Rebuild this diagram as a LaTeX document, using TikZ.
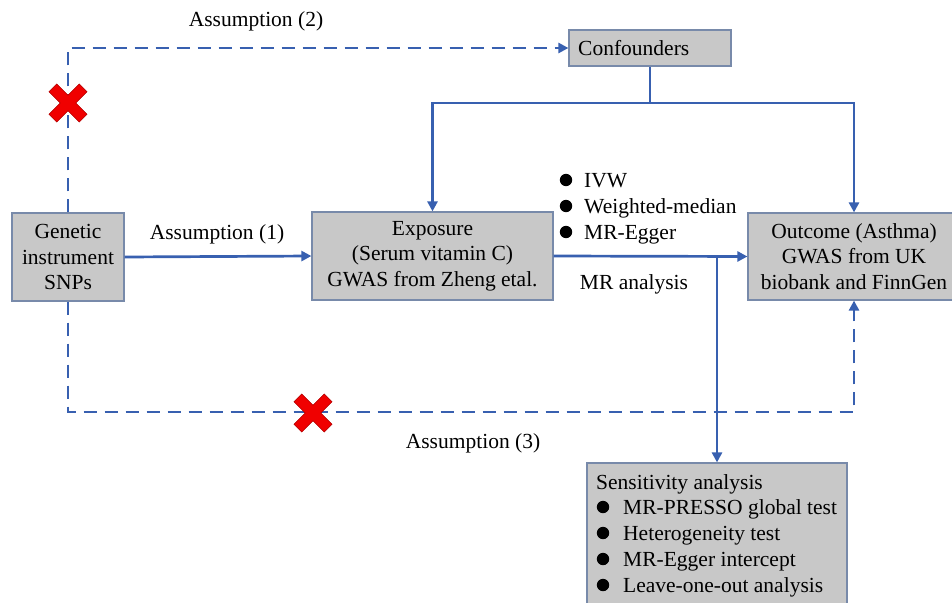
\documentclass[tikz,border=0pt]{standalone}
\usepackage{fontspec}
\setmainfont{Liberation Serif}
\usetikzlibrary{arrows.meta}
\definecolor{lineblue}{RGB}{56,96,176}
\definecolor{boxgray}{RGB}{200,200,200}
\definecolor{boxedge}{RGB}{120,138,170}
\definecolor{xred}{RGB}{240,0,0}
\tikzset{
  fnt/.style={font=\fontsize{21.5}{25.5}\selectfont},
  box/.style={draw=boxedge, line width=1.2pt, fill=boxgray, inner sep=0pt, fnt, align=center},
  solidln/.style={draw=lineblue, line width=2.7pt},
  dashln/.style={draw=lineblue, line width=2.7pt, dash pattern=on 13pt off 8pt},
  arr/.style={-{Triangle[length=10pt,width=10pt]}},
  lbl/.style={fnt, inner sep=0pt},
  bul/.style={fill=black},
}
\newcommand{\redx}[2]{%
  \begin{scope}[shift={(#1,#2)}, rotate=45]
    \fill[xred, draw=red!70!black, line width=0.6pt]
      (5.5,21.4) -- (5.5,5.5) -- (21.4,5.5) -- (21.4,-5.5) -- (5.5,-5.5) -- (5.5,-21.4)
      -- (-5.5,-21.4) -- (-5.5,-5.5) -- (-21.4,-5.5) -- (-21.4,5.5) -- (-5.5,5.5) -- (-5.5,21.4) -- cycle;
  \end{scope}}
\begin{document}
\begin{tikzpicture}[x=1pt,y=-1pt]
\clip (0,0) rectangle (952,602);
\fill[white] (0,0) rectangle (952,602);

% boxes
\node[box, minimum width=112, minimum height=88] (gen) at (68,257) {Genetic\\instrument\\SNPs};
\node[box, minimum width=241, minimum height=88] (exp) at (432.5,256) {Exposure\\(Serum vitamin C)\\GWAS from Zheng etal.};
\node[box, minimum width=212, minimum height=87] (out) at (854,256.5) {Outcome (Asthma)\\GWAS from UK\\biobank and FinnGen};
\node[box, minimum width=162, minimum height=36] (conf) at (650,48) {};
\node[lbl, anchor=base west] (conft) at (578,56) {Confounders};
\node[box, minimum width=260, minimum height=157] (sens) at (717,541.5) {};

% sensitivity text
\node[lbl, anchor=base west] (s0) at (596,489) {Sensitivity analysis};
\fill[bul] (603,507) circle (6.2);
\fill[bul] (603,533) circle (6.2);
\fill[bul] (603,559) circle (6.2);
\fill[bul] (603,585) circle (6.2);
\node[lbl, anchor=base west] (s1) at (623,514) {MR-PRESSO global test};
\node[lbl, anchor=base west] (s2) at (623,540) {Heterogeneity test};
\node[lbl, anchor=base west] (s3) at (623,566) {MR-Egger intercept};
\node[lbl, anchor=base west] (s4) at (623,592) {Leave-one-out analysis};

% MR methods
\fill[bul] (566,180) circle (6.2);
\fill[bul] (566,206) circle (6.2);
\fill[bul] (566,232) circle (6.2);
\node[lbl, anchor=base west] (m1) at (584,187) {IVW};
\node[lbl, anchor=base west] (m2) at (584,213) {Weighted-median};
\node[lbl, anchor=base west] (m3) at (584,239) {MR-Egger};
\node[lbl] (mra) at (634,284) {MR analysis};

% labels
\node[lbl] (a2) at (256,21) {Assumption (2)};
\node[lbl] (a1) at (217,234) {Assumption (1)};
\node[lbl] (a3) at (473,443) {Assumption (3)};

% coordinates
\coordinate (cj) at (650,103);
\coordinate (br) at (717,256);
\coordinate (bc) at (854,412);

% connectors
\draw[dashln, arr] (gen.north) |- (conf.west);
\draw[solidln] (conf.south) -- (cj);
\draw[solidln, arr] (cj) -| (exp.north);
\draw[solidln, arr] (cj) -| (out.north);
\draw[solidln, arr] (gen.east) -- (exp.west);
\draw[solidln, arr] (exp.east) -- (out.west);
\draw[solidln, arr] (br) -- (sens.north);
\draw[dashln, arr] (gen.south) |- (bc) -- (out.south);

% red crosses
\redx{68}{103}
\redx{313}{413}
\end{tikzpicture}
\end{document}
